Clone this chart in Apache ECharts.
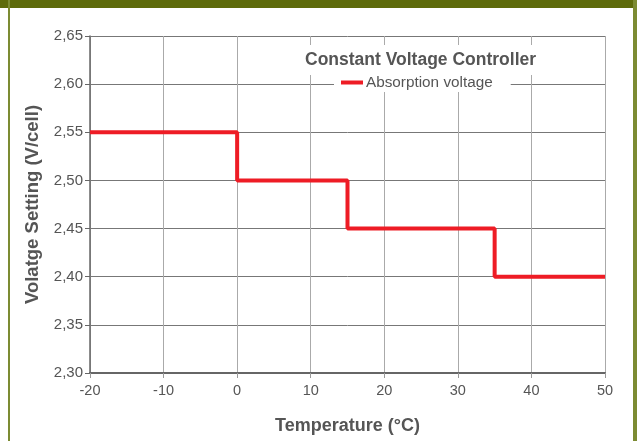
<!DOCTYPE html>
<html><head><meta charset="utf-8">
<script src="https://cdn.jsdelivr.net/npm/echarts@6/dist/echarts.min.js"></script>
<style>html,body{margin:0;padding:0;background:#fff}#c{width:637px;height:441px}</style>
</head><body><div id="c"></div>
<script>
// Data
const temperatures = [-20, 0, 15, 35, 50];
const absorptionVoltage = [2.55, 2.50, 2.45, 2.40, 2.40];
const xTicks = [-20, -10, 0, 10, 20, 30, 40, 50];
const yTicks = [2.30, 2.35, 2.40, 2.45, 2.50, 2.55, 2.60, 2.65];
const seriesName = 'Absorption voltage';
const chartTitle = 'Constant Voltage Controller';
const xName = 'Temperature (°C)';
const yName = 'Volatge Setting (V/cell)';

const font = 'Liberation Sans, Arial, Helvetica, sans-serif';
const chart = echarts.init(document.getElementById('c'), null, {renderer: 'canvas'});
chart.setOption({
  backgroundColor: '#fff',
  animation: false,
  graphic: [
    {type: 'rect', shape: {x: 0, y: 0, width: 637, height: 8}, style: {fill: '#5e6b0b'}, z: 100},
    {type: 'rect', shape: {x: 8, y: 0, width: 2, height: 441}, style: {fill: '#7c8b32'}, z: 100},
    {type: 'rect', shape: {x: 633, y: 0, width: 4, height: 441}, style: {fill: '#7c8b32'}, z: 100}
  ],
  title: {
    text: chartTitle,
    left: 299, top: 45,
    padding: [6, 6, 6, 6],
    backgroundColor: '#fff',
    textStyle: {fontFamily: font, fontSize: 17.5, fontWeight: 'bold', color: '#555'},
    z: 10
  },
  legend: {
    data: [{name: seriesName, icon: 'rect'}],
    left: 334, top: 73,
    padding: [2, 18, 2, 7],
    backgroundColor: '#fff',
    itemWidth: 22, itemHeight: 4, itemGap: 4,
    textStyle: {fontFamily: font, fontSize: 15.3, color: '#555', padding: [0, 0, 0, -2]},
    z: 10
  },
  grid: {left: 90, right: 32, top: 36, bottom: 68, containLabel: false},
  xAxis: {
    type: 'value', min: xTicks[0], max: xTicks[xTicks.length - 1], interval: 10,
    name: xName, nameLocation: 'middle', nameGap: 44,
    nameTextStyle: {fontFamily: font, fontSize: 18, fontWeight: 'bold', color: '#555'},
    axisLine: {show: true, onZero: false, lineStyle: {color: '#666', width: 2}},
    axisTick: {show: true, length: 5, lineStyle: {color: '#999'}},
    axisLabel: {fontFamily: font, fontSize: 14.5, color: '#555', margin: 10},
    splitLine: {show: true, lineStyle: {color: '#aaa', width: 1}}
  },
  yAxis: {
    type: 'value', min: yTicks[0], max: yTicks[yTicks.length - 1], interval: 0.05,
    name: yName, nameLocation: 'middle', nameGap: 43, nameRotate: 90,
    nameTextStyle: {fontFamily: font, fontSize: 18.5, fontWeight: 'bold', color: '#555'},
    axisLine: {show: true, onZero: false, lineStyle: {color: '#666', width: 1.5}},
    axisTick: {show: true, length: 5, lineStyle: {color: '#666'}},
    axisLabel: {fontFamily: font, fontSize: 15, color: '#555', margin: 7,
      formatter: v => v.toFixed(2).replace('.', ',')},
    splitLine: {show: true, lineStyle: {color: '#777', width: 1}}
  },
  series: [{
    name: seriesName,
    type: 'line',
    step: 'end',
    data: temperatures.map((t, i) => [t, absorptionVoltage[i]]),
    showSymbol: false,
    lineStyle: {color: '#ee1c25', width: 4},
    itemStyle: {color: '#ee1c25'},
    z: 5
  }]
});
</script>
</body></html>
